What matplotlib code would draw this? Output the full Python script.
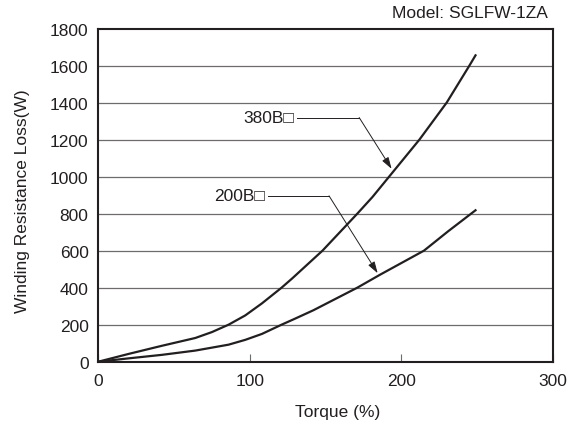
import matplotlib
matplotlib.use('Agg')
from matplotlib import pyplot as plt

plt.rcParams['font.family'] = ['Liberation Sans', 'DejaVu Sans']

# data
torque_380 = [0, 20, 42, 64, 75, 86, 97, 108, 121, 128, 148, 171, 181, 192, 212, 230, 245, 249]
loss_380 = [0, 42, 86, 128, 160, 200, 250, 315, 400, 450, 600, 800, 890, 1000, 1200, 1400, 1600, 1655]

torque_200 = [0, 20, 42, 64, 86, 97, 108, 121, 130, 142, 171, 186, 215, 231, 249]
loss_200 = [0, 18, 37, 60, 92, 118, 150, 200, 233, 278, 400, 470, 600, 705, 818]

x_ticks = [0, 100, 200, 300]
y_ticks = list(range(0, 1801, 200))

ink = '#231f20'
grid_col = '#6d6b6b'
fs = 12.5

fig = plt.figure(figsize=(5.77, 4.27), dpi=100)
ax = fig.add_axes([0.1704, 0.1506, 0.7876, 0.7803])

# horizontal grid
for y in y_ticks[1:-1]:
    ax.axhline(y, color=grid_col, lw=0.9, zorder=1)

ax.plot(torque_380, loss_380, color=ink, lw=1.6, zorder=3, solid_joinstyle='round')
ax.plot(torque_200, loss_200, color=ink, lw=1.6, zorder=3, solid_joinstyle='round')

ax.set_xlim(0, 300)
ax.set_ylim(0, 1800)
ax.set_xticks(x_ticks)
ax.set_yticks(y_ticks)
ax.tick_params(axis='x', direction='in', length=6, width=0.8, color=grid_col,
               pad=8, labelsize=fs, labelcolor=ink)
ax.tick_params(axis='y', length=0, pad=7, labelsize=fs, labelcolor=ink)
for sp in ax.spines.values():
    sp.set_color(ink)
    sp.set_linewidth(1.5)

# callouts
arrow = dict(arrowstyle='-|>,head_length=0.7,head_width=0.22', color=ink, lw=0.7,
             mutation_scale=10, shrinkA=0, shrinkB=0)
ax.plot([131.4, 172.2], [1319, 1319], color=ink, lw=0.7, zorder=4)
ax.annotate('', xy=(193.6, 1042), xytext=(172.2, 1319), arrowprops=arrow, zorder=4)
ax.text(129.5, 1319, '380B\u25a1', ha='right', va='center', fontsize=fs, color=ink)

ax.plot([111.9, 152.3], [896, 896], color=ink, lw=0.7, zorder=4)
ax.annotate('', xy=(184.4, 478), xytext=(152.3, 896), arrowprops=arrow, zorder=4)
ax.text(110, 896, '200B\u25a1', ha='right', va='center', fontsize=fs, color=ink)

ax.set_xlabel('Torque (%)', fontsize=fs, color=ink)
ax.xaxis.set_label_coords(0.5275, -0.148)
ax.xaxis.label.set_va('center')
ax.set_ylabel('Winding Resistance Loss(W)', fontsize=fs, color=ink)
ax.yaxis.set_label_coords(-0.167, 0.485)
ax.yaxis.label.set_va('center')

ax.text(0.9897, 1.0345, 'Model: SGLFW-1ZA', transform=ax.transAxes,
        ha='right', va='baseline', fontsize=fs, color=ink)

fig.savefig('out.png', dpi=100)
